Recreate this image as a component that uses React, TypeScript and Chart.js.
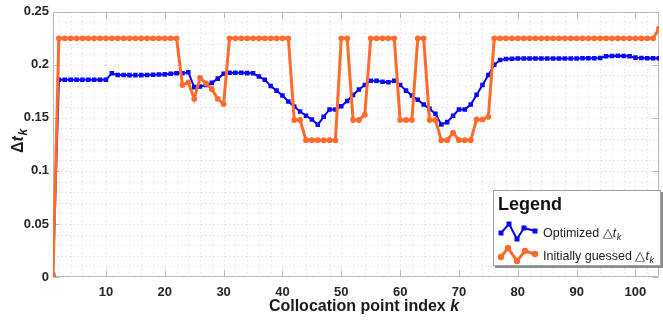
import React, { useEffect, useRef } from 'react';
import { Chart, registerables } from 'chart.js';

Chart.register(...registerables);

// ---------- data ----------
const optimizedValues = [
  0.002,
  0.186, 0.186, 0.186, 0.186, 0.186, 0.186, 0.186, 0.186, 0.186,
  0.192, 0.1905, 0.1905, 0.1903, 0.1903, 0.1903, 0.1905, 0.1907, 0.1909,
  0.191, 0.1915, 0.192, 0.192, 0.193,
  0.179, 0.1795, 0.181, 0.183, 0.187, 0.1915,
  0.1925, 0.1925, 0.1925, 0.1922, 0.192,
  0.189, 0.186, 0.18, 0.1757, 0.171, 0.1654, 0.1607, 0.156, 0.152, 0.1485,
  0.1435, 0.151, 0.158, 0.158, 0.161, 0.166, 0.1715, 0.1767, 0.181, 0.185,
  0.185, 0.184, 0.1836, 0.185, 0.181, 0.1757, 0.171, 0.167, 0.1626, 0.1585,
  0.1538, 0.1438, 0.146, 0.152, 0.158, 0.158, 0.1626, 0.1717, 0.181, 0.1905,
  0.2, 0.2046, 0.2055,
  0.2058, 0.206, 0.206, 0.206, 0.206, 0.206, 0.206, 0.206, 0.206, 0.206,
  0.206, 0.206, 0.2062, 0.2062, 0.2062, 0.2065,
  0.208, 0.2083, 0.2085, 0.2083, 0.208,
  0.2068, 0.2065, 0.2063, 0.2063, 0.2063,
];

const guessedValues = [
  0.0015,
  0.225, 0.225, 0.225, 0.225, 0.225, 0.225, 0.225, 0.225, 0.225, 0.225,
  0.225, 0.225, 0.225, 0.225, 0.225, 0.225, 0.225, 0.225, 0.225, 0.225, 0.225,
  0.181, 0.1835, 0.168, 0.1878, 0.1825, 0.177, 0.168, 0.163,
  0.225, 0.225, 0.225, 0.225, 0.225, 0.225, 0.225, 0.225, 0.225, 0.225, 0.225,
  0.148, 0.148,
  0.129, 0.129, 0.129, 0.129, 0.129, 0.129,
  0.225, 0.225,
  0.148, 0.148, 0.153,
  0.225, 0.225, 0.225, 0.225, 0.225,
  0.148, 0.148, 0.148,
  0.225, 0.225,
  0.148, 0.148,
  0.129, 0.129, 0.136, 0.129, 0.129, 0.129,
  0.1485, 0.1485, 0.151,
  0.225, 0.225, 0.225, 0.225, 0.225, 0.225, 0.225, 0.225, 0.225, 0.225,
  0.225, 0.225, 0.225, 0.225, 0.225, 0.225, 0.225, 0.225, 0.225, 0.225,
  0.225, 0.225, 0.225, 0.225, 0.225, 0.225, 0.225, 0.225,
  0.234,
];

const xTickValues = [10, 20, 30, 40, 50, 60, 70, 80, 90, 100];
const yTickValues = [0, 0.05, 0.1, 0.15, 0.2, 0.25];
const seriesNames = ['Optimized ', 'Initially guessed '];
const legendTitle = 'Legend';
const xTitle = 'Collocation point index ';
const xTitleVar = 'k';

const X_MIN = 1;
const X_MAX = 104;
const Y_MIN = 0;
const Y_MAX = 0.25;

const FONT = "'Liberation Sans', Arial, Helvetica, sans-serif";
const BLUE = '#0808f8';
const ORANGE = '#ff6b2c';

const toPoints = (vals: number[]) => vals.map((v, i) => ({ x: i + 1, y: v }));

function drawDeltaT(ctx: CanvasRenderingContext2D, x: number, y: number, size: number, bold: boolean, glyph: string) {
  const w = bold ? 'bold ' : '';
  ctx.font = `${w}${size}px ${FONT}`;
  ctx.fillText(glyph, x, y);
  x += ctx.measureText(glyph).width;
  ctx.font = `italic ${w}${size}px ${FONT}`;
  ctx.fillText('t', x, y);
  x += ctx.measureText('t').width + 0.5;
  const sub = Math.round(size * 0.72);
  ctx.font = `italic ${w}${sub}px ${FONT}`;
  ctx.fillText('k', x, y + size * 0.25);
  x += ctx.measureText('k').width;
  return x;
}

const framePlugin = {
  id: 'frame',
  beforeDatasetsDraw(chart: any) {
    const { ctx, chartArea: a, scales } = chart;
    const xs = scales.x;
    const ys = scales.y;
    ctx.save();
    // light dashed grid
    ctx.strokeStyle = '#e9e9e9';
    ctx.lineWidth = 1;
    ctx.setLineDash([2, 2]);
    for (let k = 2; k < X_MAX; k += 2) {
      const px = Math.round(xs.getPixelForValue(k)) + 0.5;
      ctx.beginPath();
      ctx.moveTo(px, a.top);
      ctx.lineTo(px, a.bottom);
      ctx.stroke();
    }
    for (let i = 1; i < 25; i++) {
      const py = Math.round(ys.getPixelForValue(i * 0.01)) + 0.5;
      ctx.beginPath();
      ctx.moveTo(a.left, py);
      ctx.lineTo(a.right, py);
      ctx.stroke();
    }
    ctx.setLineDash([]);
    // box
    ctx.strokeStyle = '#b8b8b8';
    const L = Math.round(a.left) + 0.5;
    const R = Math.round(a.right) - 0.5;
    const T = Math.round(a.top) + 0.5;
    const B = Math.round(a.bottom) - 0.5;
    ctx.beginPath();
    ctx.moveTo(L, T);
    ctx.lineTo(R, T);
    ctx.lineTo(R, B);
    ctx.lineTo(L, B);
    ctx.closePath();
    ctx.stroke();
    // inward ticks
    ctx.beginPath();
    for (const v of xTickValues) {
      const px = Math.round(xs.getPixelForValue(v)) + 0.5;
      ctx.moveTo(px, B);
      ctx.lineTo(px, B - 6);
      ctx.moveTo(px, T);
      ctx.lineTo(px, T + 6);
    }
    for (const v of yTickValues) {
      const py = Math.round(ys.getPixelForValue(v)) + 0.5;
      ctx.moveTo(L, py);
      ctx.lineTo(L + 6, py);
      ctx.moveTo(R, py);
      ctx.lineTo(R - 6, py);
    }
    ctx.stroke();
    ctx.restore();
  },
  afterDraw(chart: any) {
    const { ctx } = chart;
    ctx.save();
    ctx.fillStyle = '#1a1a1a';
    ctx.textBaseline = 'alphabetic';
    // x title
    ctx.font = `bold 16px ${FONT}`;
    const w1 = ctx.measureText(xTitle).width;
    ctx.font = `italic bold 16px ${FONT}`;
    const w2 = ctx.measureText(xTitleVar).width;
    let tx = 364 - (w1 + w2) / 2;
    ctx.font = `bold 16px ${FONT}`;
    ctx.fillText(xTitle, tx, 311);
    ctx.font = `italic bold 16px ${FONT}`;
    ctx.fillText(xTitleVar, tx + w1, 311);
    // y title (rotated)
    ctx.save();
    ctx.translate(23, 141);
    ctx.rotate(-Math.PI / 2);
    ctx.font = `bold 16px ${FONT}`;
    const dW = ctx.measureText('\u0394').width + ctx.measureText('t').width + 7;
    drawDeltaT(ctx, -dW / 2, 0, 16, true, '\u0394');
    ctx.restore();

    // legend box
    const bx = 493, by = 190, bw = 168, bh = 76;
    ctx.fillStyle = '#8c8c8c';
    ctx.fillRect(bx + 2, by + 2, bw, bh);
    ctx.fillStyle = '#ffffff';
    ctx.fillRect(bx, by, bw, bh);
    ctx.strokeStyle = '#a0a0a0';
    ctx.lineWidth = 1;
    ctx.strokeRect(bx + 0.5, by + 0.5, bw - 1, bh - 1);
    ctx.fillStyle = '#111';
    ctx.font = `bold 18px ${FONT}`;
    ctx.fillText(legendTitle, 498, 210);

    // blue icon
    const bluePts = [[501, 233], [509, 224], [517, 239], [524, 228], [535, 231]];
    ctx.strokeStyle = BLUE;
    ctx.lineWidth = 2;
    ctx.beginPath();
    bluePts.forEach(([px, py], i) => (i ? ctx.lineTo(px, py) : ctx.moveTo(px, py)));
    ctx.stroke();
    ctx.fillStyle = BLUE;
    bluePts.forEach(([px, py]) => ctx.fillRect(px - 2.5, py - 2.5, 5, 5));
    // orange icon
    const orPts = [[501, 257], [508, 248], [517, 261], [525, 251], [535, 254]];
    ctx.strokeStyle = ORANGE;
    ctx.lineWidth = 3;
    ctx.beginPath();
    orPts.forEach(([px, py], i) => (i ? ctx.lineTo(px, py) : ctx.moveTo(px, py)));
    ctx.stroke();
    ctx.fillStyle = ORANGE;
    orPts.forEach(([px, py]) => {
      ctx.beginPath();
      ctx.arc(px, py, 3.2, 0, Math.PI * 2);
      ctx.fill();
    });

    // legend texts
    ctx.fillStyle = '#222';
    ctx.font = `12.5px ${FONT}`;
    let x1 = 543;
    ctx.fillText(seriesNames[0], x1, 237);
    x1 += ctx.measureText(seriesNames[0]).width;
    drawDeltaT(ctx, x1, 237, 12.5, false, '\u25B3');
    let x2 = 543;
    ctx.font = `12.5px ${FONT}`;
    ctx.fillText(seriesNames[1], x2, 260);
    x2 += ctx.measureText(seriesNames[1]).width;
    drawDeltaT(ctx, x2, 260, 12.5, false, '\u25B3');
    ctx.restore();
  },
};

export default function App() {
  const ref = useRef<HTMLCanvasElement | null>(null);
  useEffect(() => {
    document.body.style.margin = '0';
    const canvas = ref.current;
    if (!canvas) return;
    const tickFont = { family: FONT, size: 13, weight: 'bold' as const };
    const chart = new Chart(canvas, {
      type: 'line',
      data: {
        datasets: [
          {
            label: 'Optimized',
            data: toPoints(optimizedValues),
            borderColor: BLUE,
            backgroundColor: BLUE,
            borderWidth: 2,
            pointStyle: 'rect',
            pointRadius: 3.2,
            pointBorderWidth: 0,
            tension: 0,
            order: 2,
          },
          {
            label: 'Initially guessed',
            data: toPoints(guessedValues),
            borderColor: ORANGE,
            backgroundColor: ORANGE,
            borderWidth: 3,
            pointStyle: 'circle',
            pointRadius: 2.9,
            pointBorderWidth: 0,
            tension: 0,
            order: 1,
          },
        ],
      },
      options: {
        responsive: false,
        animation: false,
        events: [],
        layout: { padding: { left: 0, right: 1, top: 10, bottom: 0 } },
        plugins: { legend: { display: false }, tooltip: { enabled: false } },
        scales: {
          x: {
            type: 'linear',
            min: X_MIN,
            max: X_MAX,
            grid: { display: false, drawTicks: false },
            border: { display: false },
            ticks: { font: tickFont, color: '#262626', padding: 8, maxRotation: 0, autoSkip: false },
            afterBuildTicks: (s: any) => {
              s.ticks = xTickValues.map((v) => ({ value: v }));
            },
            afterFit: (s: any) => {
              s.height = 45;
            },
          },
          y: {
            type: 'linear',
            min: Y_MIN,
            max: Y_MAX,
            grid: { display: false, drawTicks: false },
            border: { display: false },
            ticks: {
              font: tickFont,
              color: '#262626',
              padding: 4,
              callback: (v: any) => String(Math.round(Number(v) * 100) / 100),
            },
            afterBuildTicks: (s: any) => {
              s.ticks = yTickValues.map((v) => ({ value: v }));
            },
            afterFit: (s: any) => {
              s.width = 53;
            },
          },
        },
      },
      plugins: [framePlugin],
    });
    return () => chart.destroy();
  }, []);
  return (
    <div style={{ position: 'fixed', left: 0, top: 0, width: 663, height: 322, background: '#fff' }}>
      <canvas ref={ref} width={663} height={322} style={{ display: 'block' }} />
    </div>
  );
}
